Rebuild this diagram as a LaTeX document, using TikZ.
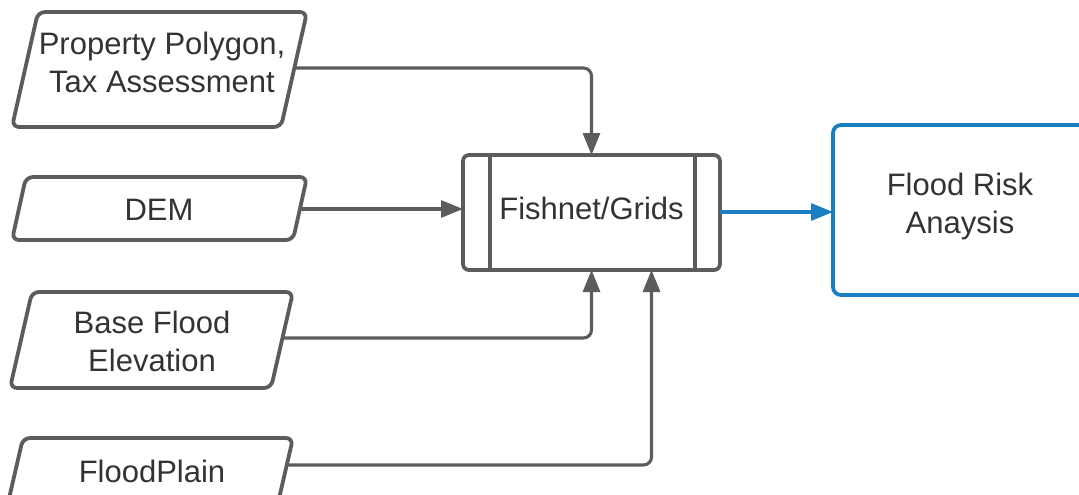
\documentclass[tikz,border=0pt]{standalone}
\usepackage{fontspec}
\setmainfont{Liberation Sans}
\usetikzlibrary{arrows.meta,calc}
\definecolor{linegray}{HTML}{5C5C5C}
\definecolor{txtgray}{HTML}{333333}
\definecolor{flowblue}{HTML}{1A7EC2}
\begin{document}
\begin{tikzpicture}[x=1pt,y=-1pt,
  inshape/.style={draw=linegray,line width=3.8pt,rounded corners=7pt,line join=round},
  lbl/.style={text=txtgray,font=\fontsize{31pt}{38pt}\selectfont,align=center,inner sep=0pt},
  conn/.style={draw=linegray,line width=3.1pt,rounded corners=8pt,-{Triangle[length=22pt,width=17pt]}},
  procbox/.style={draw=linegray,line width=3.8pt,rounded corners=6pt,minimum width=257pt,minimum height=115pt,inner sep=0pt,outer sep=0pt},
  outbox/.style={draw=flowblue,line width=3.8pt,rounded corners=8pt,minimum width=254pt,minimum height=170pt,inner sep=0pt,outer sep=0pt},
  blueconn/.style={draw=flowblue,line width=3.1pt,-{Triangle[length=22pt,width=17pt]}}]
\useasboundingbox (0,0) rectangle (1079,495);
\begin{scope}
\clip (0,0) rectangle (1079,495);
% input parallelograms
\draw[inshape] (12,127) -- (38,12) -- (307,12) -- (281,127) -- cycle;
\draw[inshape] (12,240) -- (26,177) -- (307,177) -- (293,240) -- cycle;
\draw[inshape] (10,388) -- (32,292) -- (293,292) -- (271,388) -- cycle;
\draw[inshape] (8,503) -- (23,438) -- (293,438) -- (278,503) -- cycle;
\node[lbl] (prop) at (162,62) {Property Polygon,\\Tax Assessment};
\node[lbl] (dem) at (159,210) {DEM};
\node[lbl] (bfe) at (152,341) {Base Flood\\Elevation};
\node[lbl] (fp) at (152,471) {FloodPlain};
\coordinate (propR) at (294,68);
\coordinate (demR) at (301,209);
\coordinate (bfeR) at (283,338);
\coordinate (fpR) at (287,465);
% process box
\node[procbox] (fish) at (591.5,212.5) {};
\node[lbl] (fishtxt) at (591.5,208) {Fishnet/Grids};
\draw[linegray,line width=3.3pt] ([xshift=27pt]fish.north west) -- ([xshift=27pt]fish.south west);
\draw[linegray,line width=3.3pt] ([xshift=-25pt]fish.north east) -- ([xshift=-25pt]fish.south east);
% output box
\node[outbox] (risk) at (960,210) {};
\node[lbl] (risktxt) at (960,206) {Flood Risk\\Anaysis};
% connectors
\draw[conn] (propR) -| (fish.north);
\draw[conn] (demR) -- (demR -| fish.west);
\draw[conn] (bfeR) -| (fish.south);
\draw[conn] (fpR) -| ($(fish.south)+(60,0)$);
\draw[blueconn] (fish.east |- 0,212) -- (risk.west |- 0,212);
\end{scope}
\end{tikzpicture}
\end{document}
